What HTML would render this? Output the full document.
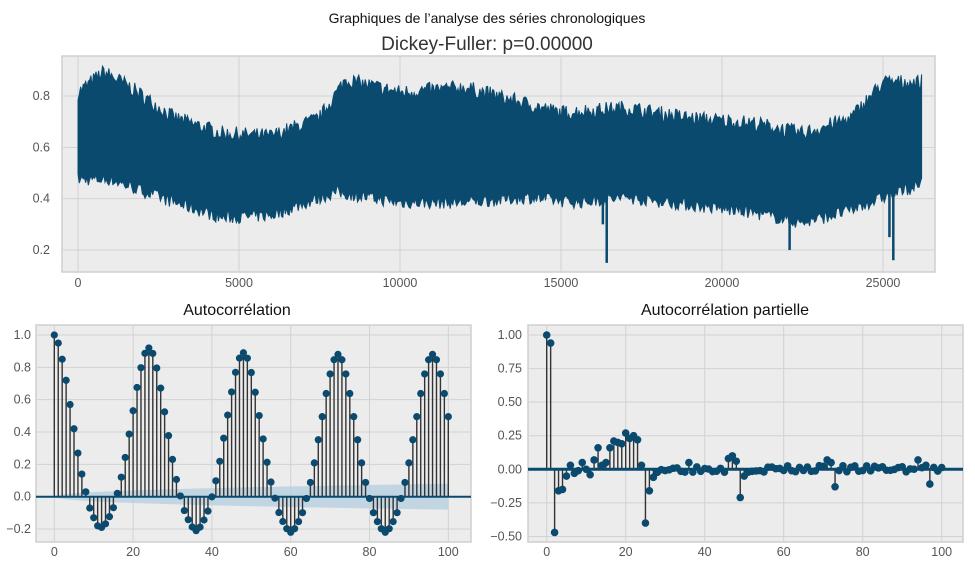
<!DOCTYPE html>
<html><head><meta charset="utf-8"><style>
html,body{margin:0;padding:0;background:#fff;}
svg{display:block;font-family:"Liberation Sans",sans-serif;}
</style></head><body>
<svg id="s" width="975" height="566" xmlns="http://www.w3.org/2000/svg">
<text x="487" y="23" text-anchor="middle" font-size="14" fill="#111">Graphiques de l’analyse des séries chronologiques</text>
<text x="487" y="50" text-anchor="middle" font-size="19" fill="#333">Dickey-Fuller: p=0.00000</text>
<text x="237" y="315" text-anchor="middle" font-size="16" fill="#111">Autocorrélation</text>
<text x="725" y="315" text-anchor="middle" font-size="16" fill="#111">Autocorrélation partielle</text>
<g id="g"></g>
</svg>
<script>
var g=document.getElementById('g'),h='';
var C='#0b4a6f';
function frame(x0,y0,x1,y1){h+='<rect x="'+x0+'" y="'+y0+'" width="'+(x1-x0)+'" height="'+(y1-y0)+'" fill="#ececec" stroke="#cfcfcf" stroke-width="1.5"/>';}
function vgrid(x,y0,y1){h+='<line x1="'+x+'" x2="'+x+'" y1="'+y0+'" y2="'+y1+'" stroke="#d2d2d2" stroke-width="1"/>';}
function hgrid(y,x0,x1){h+='<line x1="'+x0+'" x2="'+x1+'" y1="'+y+'" y2="'+y+'" stroke="#d2d2d2" stroke-width="1"/>';}
function txt(x,y,t,a){h+='<text x="'+x+'" y="'+y+'" text-anchor="'+a+'" font-size="12.5" fill="#555">'+t+'</text>';}
// top panel
var X0=62,X1=935,Y0=56,Y1=272;
frame(X0,Y0,X1,Y1);
function tx(v){return 78+0.0322*v;} function ty(v){return 96+(0.8-v)*256.7;}
for(var v=0;v<=25000;v+=5000){vgrid(tx(v),Y0,Y1);txt(tx(v),287,v,'middle');}
[0.2,0.4,0.6,0.8].forEach(function(v){hgrid(ty(v),X0,X1);txt(50,ty(v)+4,v.toFixed(1),'end');});
var seed=7;function rnd(){seed=(seed*16807)%2147483647;return seed/2147483647;}
var lo=[[0,0.47],[1000,0.47],[3000,0.38],[4500,0.32],[6000,0.33],[8000,0.42],[10000,0.38],[12000,0.38],[14000,0.4],[15500,0.38],[17000,0.4],[19000,0.37],[21000,0.34],[22500,0.3],[24000,0.35],[25000,0.4],[26200,0.45]];
var hi=[[0,0.82],[800,0.9],[1500,0.85],[3000,0.72],[4500,0.66],[6000,0.65],[7500,0.72],[8300,0.87],[10000,0.82],[12000,0.84],[13500,0.79],[15000,0.74],[17000,0.76],[19000,0.72],[21000,0.7],[22500,0.66],[24000,0.72],[25000,0.86],[26200,0.86]];
function interp(a,x){for(var i=0;i<a.length-1;i++){if(x<=a[i+1][0]){var t=(x-a[i][0])/(a[i+1][0]-a[i][0]);return a[i][1]+t*(a[i+1][1]-a[i][1]);}}return a[a.length-1][1];}
var up='',dn=[];
for(var x=0;x<=26200;x+=40){var u=interp(hi,x)+(rnd()-0.6)*0.06,l=interp(lo,x)+(rnd()-0.4)*0.05;up+=(up?'L':'M')+tx(x).toFixed(1)+' '+ty(u).toFixed(1);dn.push(tx(x).toFixed(1)+' '+ty(l).toFixed(1));}
dn.reverse();h+='<path d="'+up+'L'+dn.join('L')+'Z" fill="'+C+'" stroke="'+C+'" stroke-width="1"/>';
[[16300,0.3],[16420,0.15],[22100,0.2],[25200,0.25],[25320,0.16]].forEach(function(p){h+='<line x1="'+tx(p[0])+'" x2="'+tx(p[0])+'" y1="'+ty(0.45)+'" y2="'+ty(p[1])+'" stroke="'+C+'" stroke-width="2.5"/>';});
// ACF
var A0=36,A1=471,B0=325,B1=542;frame(A0,B0,A1,B1);
function ax(k){return 54.3+3.94*k;} function ay(v){return 496.7-v*161.7;}
for(var k=0;k<=100;k+=20){vgrid(ax(k),B0,B1);txt(ax(k),556,k,'middle');}
[-0.2,0,0.2,0.4,0.6,0.8,1.0].forEach(function(v){hgrid(ay(v),A0,A1);txt(31,ay(v)+4,(v<0?'−0.2':v.toFixed(1)),'end');});
var bu='',bd=[];for(var k=0;k<=100;k++){var b=k==0?0:0.08*Math.pow(k/100,0.45);bu+=(bu?'L':'M')+ax(k)+' '+ay(b);bd.push(ax(k)+' '+ay(-b));}
bd.reverse();h+='<path d="'+bu+'L'+bd.join('L')+'Z" fill="#b7cfe0" opacity="0.8"/>';
var first=[1,0.95,0.85,0.72,0.57,0.42,0.27,0.14,0.03,-0.07,-0.13,-0.18,-0.19];
var S=[1,0.97,0.89,0.78,0.65,0.52,0.39,0.28,0.19,0.11,0.06,0.02,0];
var peaks={24:0.92,48:0.89,72:0.88,96:0.88},troughs={12:-0.19,36:-0.21,60:-0.22,84:-0.22,108:-0.22};
function acf(k){if(k<=12)return first[k];var pk=Math.round(k/24)*24,d=Math.abs(k-pk);
var P=peaks[pk],T=troughs[k>pk?pk+12:pk-12];return T+(P-T)*S[d];}
var st='',mk='';
for(var k=0;k<=100;k++){var r=acf(k);st+='<line x1="'+ax(k)+'" x2="'+ax(k)+'" y1="'+ay(0)+'" y2="'+ay(r)+'" stroke="#333" stroke-width="1.4"/>';mk+='<circle cx="'+ax(k)+'" cy="'+ay(r)+'" r="3.6" fill="'+C+'"/>';}
h+=st+'<line x1="'+A0+'" x2="'+A1+'" y1="'+ay(0)+'" y2="'+ay(0)+'" stroke="'+C+'" stroke-width="2"/>'+mk;
// PACF
var P0=528,P1=963;frame(P0,B0,P1,B1);
function px(k){return 546.7+3.95*k;} function py(v){return 469.3-v*134.3;}
for(var k=0;k<=100;k+=20){vgrid(px(k),B0,B1);txt(px(k),556,k,'middle');}
[-0.5,-0.25,0,0.25,0.5,0.75,1].forEach(function(v){hgrid(py(v),P0,P1);txt(522,py(v)+4,(v<0?'−'+(-v).toFixed(2):v.toFixed(2)),'end');});
var pv={0:1,1:0.94,2:-0.47,3:-0.16,4:-0.15,5:-0.05,6:0.03,7:-0.03,8:-0.01,9:0.05,10:0.0,11:-0.04,12:0.07,13:0.16,14:0.03,15:0.05,16:0.16,17:0.21,18:0.2,19:0.19,20:0.27,21:0.23,22:0.25,23:0.22,24:0.03,25:-0.4,26:-0.16,27:-0.06,36:0.05,46:0.08,47:0.1,48:0.06,49:-0.21,50:-0.05,71:0.07,72:0.05,73:-0.13,94:0.07,96:0.03,97:-0.11};
seed=3;st='';mk='';
for(var k=0;k<=100;k++){var r=(k in pv)?pv[k]:(rnd()-0.45)*0.05;st+='<line x1="'+px(k)+'" x2="'+px(k)+'" y1="'+py(0)+'" y2="'+py(r)+'" stroke="#333" stroke-width="1.4"/>';mk+='<circle cx="'+px(k)+'" cy="'+py(r)+'" r="3.8" fill="'+C+'"/>';}
h+=st+'<line x1="'+P0+'" x2="'+P1+'" y1="'+py(0)+'" y2="'+py(0)+'" stroke="'+C+'" stroke-width="3"/>'+mk;
g.innerHTML=h;
</script>
</body></html>
